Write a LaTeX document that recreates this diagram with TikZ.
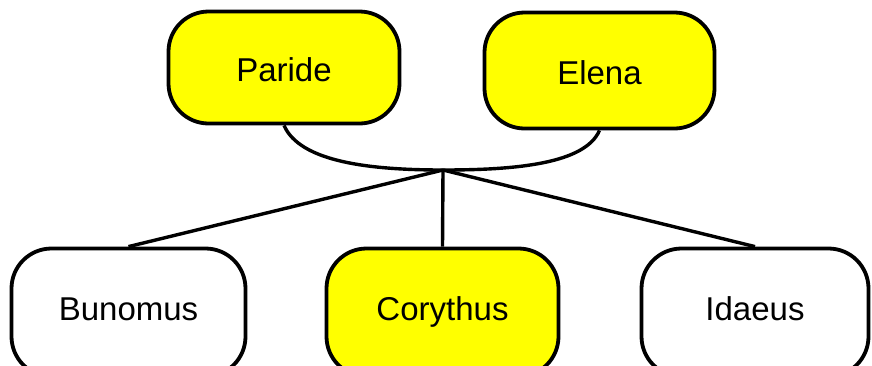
\documentclass[tikz,border=0pt]{standalone}
\usepackage{fontspec}
\setmainfont{Liberation Sans}
\definecolor{nodeyellow}{RGB}{255,255,0}
\begin{document}
\begin{tikzpicture}[x=1pt,y=-1pt,
  person/.style 2 args={draw=black, line width=3.8pt, rectangle, rounded corners=40pt,
    minimum width=#1, inner sep=0pt,
    label={[font=\fontsize{33}{38}\selectfont, text height=23.6pt, text depth=0pt, inner sep=0pt, yshift=#2]center:\pname}},
  yel/.style={fill=nodeyellow},
  wht/.style={fill=white},
  link/.style={draw=black, line width=3.4pt}]
\clip (0,0) rectangle (872,365);
\fill[white] (0,0) rectangle (872,365);
\def\pname{Paride}
\node[person={231pt}{-2.5pt}, yel, minimum height=112pt] (paride) at (284,67.5) {};
\def\pname{Elena}
\node[person={230pt}{-2pt}, yel, minimum height=116pt] (elena) at (599.5,70.5) {};
\def\pname{Bunomus}
\node[person={234pt}{3.5pt}, wht, minimum height=128pt] (bunomus) at (128.5,312.5) {};
\def\pname{Corythus}
\node[person={232pt}{3.5pt}, yel, minimum height=128pt] (corythus) at (442.5,312.5) {};
\def\pname{Idaeus}
\node[person={227pt}{3.5pt}, wht, minimum height=128pt] (idaeus) at (755,312.5) {};
\coordinate (j) at (443,170);
\draw[link] (paride.south) .. controls (300,162) and (370,170) .. (j);
\draw[link] (elena.south) .. controls (585,164) and (515,170) .. (j);
\draw[link] (j) -- (bunomus.north);
\draw[link] (j) -- (corythus.north);
\draw[link] (j) -- (idaeus.north);
\end{tikzpicture}
\end{document}
